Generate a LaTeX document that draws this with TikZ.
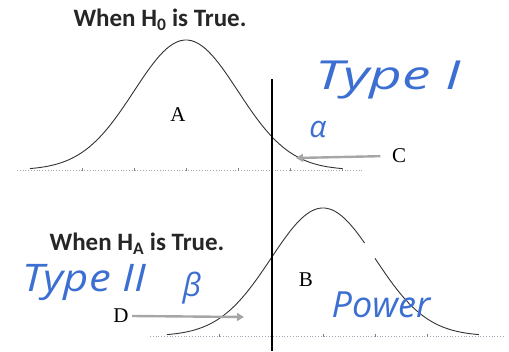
\documentclass[tikz,border=0pt]{standalone}
\usepackage{fontspec}
\usepackage{tikz}
\usetikzlibrary{arrows.meta, positioning}
\newfontfamily\titlefont{Carlito}
\newfontfamily\letterfont{Liberation Serif}
\newfontfamily\handfont{Open Sans}
\definecolor{penblue}{HTML}{3C6FD2}
\definecolor{axisgray}{HTML}{9FA8B4}

\tikzset{
  curve/.style={draw=black!80, line width=0.9pt},
  cutline/.style={draw=black, line width=1.6pt},
  axisline/.style={draw=axisgray, line width=0.8pt, dotted},
  tickmark/.style={draw=black!50, line width=0.6pt},
  titletext/.style={font=\titlefont\bfseries\fontsize{25}{28}\selectfont, text=black!85},
  lettertext/.style={font=\letterfont\fontsize{21}{24}\selectfont},
  handtext/.style={font=\handfont\itshape, text=penblue},
  grayarrow/.style={draw=black!35, line width=2.4pt, -{Triangle[length=7pt, width=8pt]}}
}

\begin{document}
\begin{tikzpicture}[x=1pt, y=-1pt]
  \useasboundingbox (0,0) rectangle (509,351);

  % H0 curve: mean 186, sigma 52, baseline 170
  \draw[axisline] (17,170) -- (363,170);
  \foreach \k in {-2,...,3}
    \draw[tickmark] (186+52*\k,168) -- (186+52*\k,171);
  \draw[curve] plot[domain=-3:3, samples=90, smooth]
    ({186+52*\x},{170-130*exp(-\x*\x/2)});

  % HA curve: mean 323, sigma 52, baseline 336 (scan gap kept)
  \draw[axisline] (150,336) -- (503,336);
  \foreach \k in {-2,...,2}
    \draw[tickmark] (323+52*\k,334) -- (323+52*\k,337);
  \draw[curve] plot[domain=-3:0.8, samples=80, smooth]
    ({323+52*\x},{336-128*exp(-\x*\x/2)});
  \draw[curve] plot[domain=1.0:3, samples=50, smooth]
    ({323+52*\x},{336-128*exp(-\x*\x/2)});

  % critical value
  \coordinate (cutTop) at (272,79);
  \coordinate (cutBot) at (272,351);
  \draw[cutline] (cutTop) -- (cutBot);

  % titles
  \node[titletext] (titleNull) at (160,20) {When H\textsubscript{0} is True.};
  \node[titletext] (titleAlt) at (137,244) {When H\textsubscript{A} is True.};

  % region letters
  \node[lettertext] (labA) at (178,115) {A};
  \node[lettertext] (labB) at (306,280) {B};
  \node[lettertext] (labC) at (399,156) {C};
  \node[lettertext] (labD) at (121,316) {D};

  \coordinate (alphaTip) at (296,158);
  \coordinate (betaTip) at (244,317);
  \draw[grayarrow, shorten <=8pt] (labC.west) -- (alphaTip);
  \draw[grayarrow] (labD.east) -- (betaTip);

  % handwritten notes
  \node[handtext, font=\handfont\itshape\fontsize{40}{44}\selectfont, xscale=1.42]
    (typeOne) at (388,80) {Type I};
  \node[handtext, font=\handfont\itshape\fontsize{30}{34}\selectfont]
    (alphaNote) at (318,129) {α};
  \node[handtext, font=\handfont\itshape\fontsize{38}{42}\selectfont, xscale=1.15]
    (typeTwo) at (84,283) {Type II};
  \node[handtext, font=\handfont\itshape\fontsize{32}{36}\selectfont]
    (betaNote) at (192,288) {β};
  \node[handtext, font=\handfont\itshape\fontsize{36}{40}\selectfont]
    (powerNote) at (381,305) {Power};
\end{tikzpicture}
\end{document}
